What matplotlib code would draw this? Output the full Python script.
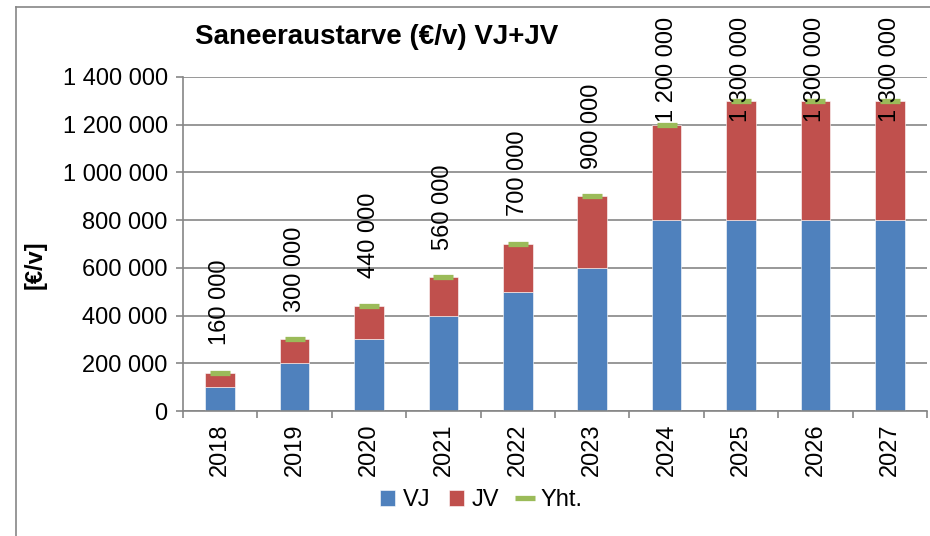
import numpy as np
import matplotlib.pyplot as plt
from matplotlib.lines import Line2D
from matplotlib.ticker import FuncFormatter

plt.rcParams['font.family'] = ['Liberation Sans', 'DejaVu Sans']

years = ['2018', '2019', '2020', '2021', '2022', '2023', '2024', '2025', '2026', '2027']
vj = [100000, 200000, 300000, 400000, 500000, 600000, 800000, 800000, 800000, 800000]
jv = [60000, 100000, 140000, 160000, 200000, 300000, 400000, 500000, 500000, 500000]
yht = [a + b for a, b in zip(vj, jv)]

BLUE = '#4F81BD'
RED = '#C0504D'
GREEN = '#9BBB59'
GRAY = '#868686'


def fmt(v, pos=None):
    return f'{int(v):,}'.replace(',', ' ')


W, H = 930, 536
fig = plt.figure(figsize=(W / 100, H / 100), dpi=100)
ax = fig.add_axes([183 / W, 1 - 411 / H, (927 - 183) / W, (411 - 77) / H])

x = np.arange(len(years))
b1 = ax.bar(x, vj, 0.4, color=BLUE, edgecolor='white', linewidth=0.4, label='VJ', zorder=2)
b2 = ax.bar(x, jv, 0.4, bottom=vj, color=RED, edgecolor='white', linewidth=0.4, label='JV', zorder=2)
ln, = ax.plot(x, yht, ls='none', marker='_', ms=15, mew=3.8, color=GREEN, label='Yht.', zorder=3)

ax.set_xlim(-0.5, len(years) - 0.5)
ax.set_ylim(0, 1400000)
ax.set_yticks(np.arange(0, 1400001, 200000))
ax.yaxis.set_major_formatter(FuncFormatter(fmt))
ax.set_xticks(x)
ax.set_xticklabels(years, rotation=90)
ax.set_xticks(np.arange(-0.5, len(years)), minor=True)
ax.tick_params(axis='x', which='major', length=0, pad=9, labelsize=17)
ax.tick_params(axis='x', which='minor', length=5, width=1.2, color=GRAY)
ax.tick_params(axis='y', length=5, width=1.2, color=GRAY, pad=6, labelsize=17)
ax.grid(axis='y', color=GRAY, lw=1.2, zorder=0)
for s in ['top', 'right']:
    ax.spines[s].set_visible(False)
for s in ['left', 'bottom']:
    ax.spines[s].set_color(GRAY)
    ax.spines[s].set_linewidth(1.2)

ax.set_ylabel('[€/v]', fontsize=17, fontweight='bold')
ax.yaxis.set_label_coords(-(183 - 47) / (927 - 183), (411 - 265) / (411 - 77))
fig.text(377 / W, 1 - 37 / H, 'Saneeraustarve (€/v) VJ+JV', fontsize=20,
         fontweight='bold', ha='center', va='center')

# value labels above the stacks, kept inside the chart area
labels = []
for xi, t in zip(x, yht):
    labels.append(ax.annotate(fmt(t), (xi, t), xytext=(0, 20), textcoords='offset points',
                              rotation=90, ha='center', va='bottom', fontsize=17,
                              annotation_clip=False))
fig.canvas.draw()
r = fig.canvas.get_renderer()
top_px = H - 17
for lab in labels:
    bb = lab.get_window_extent(r)
    if bb.y1 > top_px:
        ox, oy = lab.xyann
        lab.xyann = (ox, oy - (bb.y1 - top_px) * 72 / fig.dpi)

ax.legend([b1, b2, ln], ['VJ', 'JV', 'Yht.'], loc='center',
          bbox_to_anchor=(481 / W, 1 - 500 / H), bbox_transform=fig.transFigure,
          ncol=3, frameon=False, fontsize=17, handlelength=0.65, handleheight=0.65,
          handletextpad=0.3, columnspacing=0.8)

# chart area border
fig.add_artist(Line2D([16 / W, 16 / W], [0, 1 - 7 / H], color=GRAY, lw=1.2))
fig.add_artist(Line2D([16 / W, 1], [1 - 7 / H, 1 - 7 / H], color=GRAY, lw=1.2))

fig.savefig('out.png', dpi=100)
